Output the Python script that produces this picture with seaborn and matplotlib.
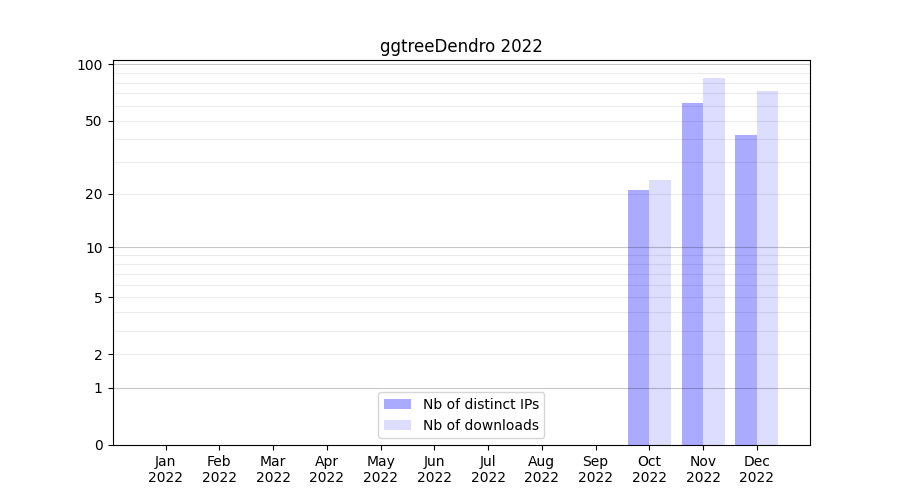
import numpy as np
import pandas as pd
import seaborn as sns
import matplotlib
matplotlib.use("Agg")
import matplotlib.pyplot as plt

months = ["Jan", "Feb", "Mar", "Apr", "May", "Jun", "Jul", "Aug", "Sep", "Oct", "Nov", "Dec"]
year = "2022"
distinct_ips = [0, 0, 0, 0, 0, 0, 0, 0, 0, 21, 62, 42]
downloads = [0, 0, 0, 0, 0, 0, 0, 0, 0, 24, 85, 72]
series_names = ["Nb of distinct IPs", "Nb of downloads"]
colors = ["#aaaaff", "#ddddff"]

df = pd.DataFrame({
    "month": months * 2,
    "count": distinct_ips + downloads,
    "series": [series_names[0]] * len(months) + [series_names[1]] * len(months),
})

fig, ax = plt.subplots(figsize=(9, 5), dpi=100)
sns.barplot(data=df, x="month", y="count", hue="series", palette=colors,
            width=0.8, saturation=1, ax=ax)

# log(1+y) scale like the original
ax.set_yscale("function", functions=(lambda y: np.log10(1 + np.clip(y, 0, None)),
                                     lambda t: 10 ** t - 1))
ax.set_ylim(0, 105.5)
ax.set_xlim(-0.99, 11.99)

yticks = [0, 1, 2, 5, 10, 20, 50, 100]
ax.set_yticks(yticks)
ax.set_yticklabels([str(t) for t in yticks])
ax.minorticks_off()

# grid drawn semi transparent on top of the bars
for y in [2, 3, 4, 5, 6, 7, 8, 9, 20, 30, 40, 50, 60, 70, 80, 90]:
    ax.axhline(y, color="k", alpha=0.08, lw=0.8, zorder=1.5)
for y in [1, 10, 100]:
    ax.axhline(y, color="k", alpha=0.22, lw=0.8, zorder=1.5)

ax.set_xticks(range(len(months)))
ax.set_xticklabels([m + "\n" + year for m in months])
ax.set_xlabel("")
ax.set_ylabel("")
ax.set_title("ggtreeDendro " + year)

handles, labels = ax.get_legend_handles_labels()
ax.legend(handles, labels, loc="lower center")

fig.savefig("out.png", dpi=100)
